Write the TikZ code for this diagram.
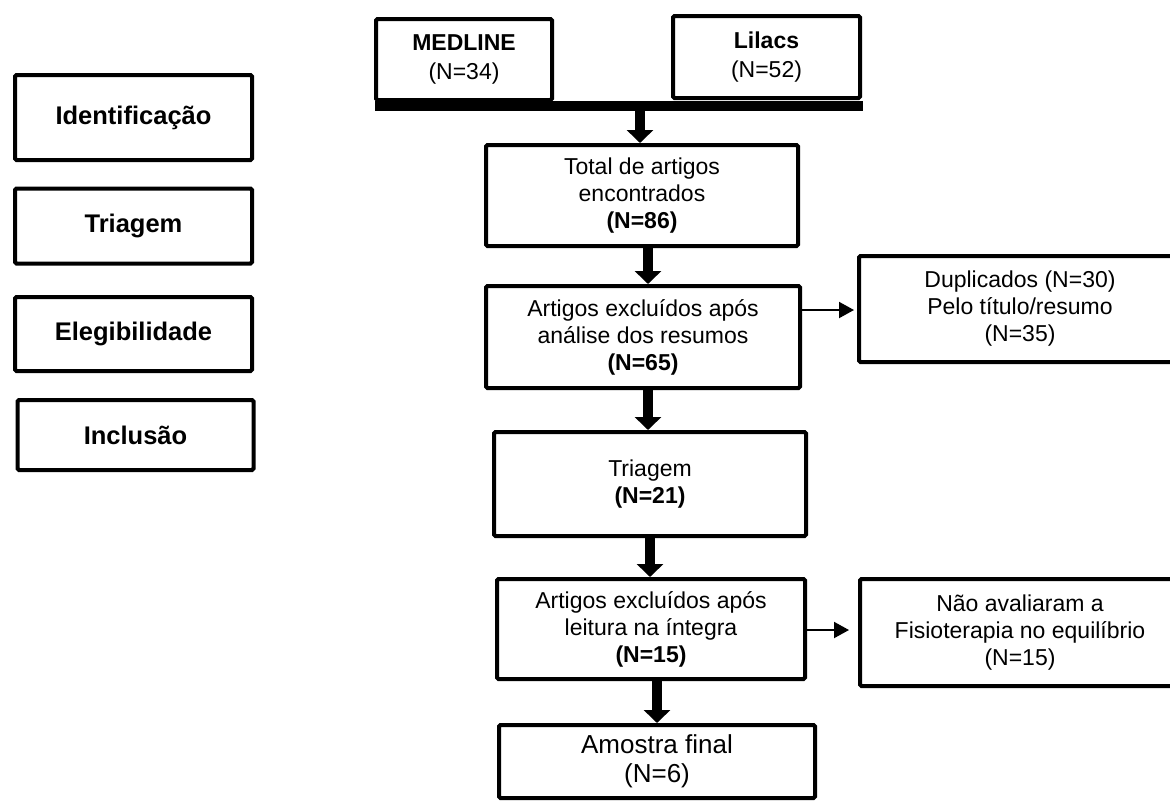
\documentclass[tikz,border=0pt]{standalone}
\usepackage{fontspec}
\setmainfont{Liberation Sans}
\usetikzlibrary{arrows.meta}
\tikzset{
  box/.style={draw, line width=4pt, rounded corners=1.5pt, inner sep=0pt, align=center,
    font=\fontsize{23}{27}\selectfont},
  sidebox/.style={box, font=\bfseries\fontsize{25.5}{30}\selectfont},
  srcbox/.style={box, font=\fontsize{23}{29}\selectfont},
  bigarr/.style={line width=10pt, -{Triangle[width=26pt,length=13pt]}},
  thinarr/.style={line width=2pt, -{Triangle[width=16pt,length=15pt]}},
}
\begin{document}
\begin{tikzpicture}[x=1pt,y=-1pt]
\useasboundingbox (0,0) rectangle (1170,804);
\clip (0,0) rectangle (1170,804);
% left stage labels
\node[sidebox, minimum width=237, minimum height=85] (idf) at (133.5,117.5) {Identificação};
\node[sidebox, minimum width=237, minimum height=75] (tri) at (133.5,226) {Triagem};
\node[sidebox, minimum width=237, minimum height=74] (eleg) at (133.5,334) {Elegibilidade};
\node[sidebox, minimum width=236, minimum height=70] (inc) at (135.5,435) {Inclusão};
% sources
\node[srcbox, minimum width=176, minimum height=81] (med) at (464,59.5) {\textbf{MEDLINE}\\(N=34)};
\node[srcbox, minimum width=187, minimum height=82] (lil) at (766.5,57) {\textbf{Lilacs}\\(N=52)};
\node[fill, inner sep=0pt, minimum width=488, minimum height=10] (bar) at (619,105.5) {};
% main column
\node[box, minimum width=312, minimum height=101] (total) at (642,195.5) {Total de artigos\\encontrados\\\textbf{(N=86)}};
\node[box, minimum width=314, minimum height=102] (art1) at (643,337) {Artigos excluídos após\\análise dos resumos\\\textbf{(N=65)}};
\node[box, minimum width=312, minimum height=104] (triag) at (650,484) {Triagem\\\textbf{(N=21)}};
\node[box, minimum width=308, minimum height=100] (art2) at (651,629) {Artigos excluídos após\\leitura na íntegra\\\textbf{(N=15)}};
\node[box, minimum width=316, minimum height=73, font=\fontsize{26}{29}\selectfont] (amo) at (657,761.5) {Amostra final\\(N=6)};
% side boxes
\node[box, minimum width=322, minimum height=106] (dup) at (1020,309) {Duplicados (N=30)\\Pelo título/resumo\\(N=35)};
\node[box, minimum width=320, minimum height=107] (nao) at (1020,632.5) {Não avaliaram a\\Fisioterapia no equilíbrio\\(N=15)};
% connectors
\draw[bigarr] ([xshift=21pt]bar.south) -- ([xshift=21pt]bar.south |- total.north);
\draw[bigarr] ([xshift=6pt]total.south) -- ([xshift=6pt]total.south |- art1.north);
\draw[bigarr] ([xshift=5pt]art1.south) -- ([xshift=5pt]art1.south |- triag.north);
\draw[bigarr] (triag.south) -- (triag.south |- art2.north);
\draw[bigarr] ([xshift=6pt]art2.south) -- ([xshift=6pt]art2.south |- amo.north);
\draw[thinarr, shorten >=3pt] ([yshift=27pt]art1.east) -- ([yshift=27pt]art1.east -| dup.west);
\draw[thinarr, shorten >=9pt] ([yshift=-1pt]art2.east) -- ([yshift=-1pt]art2.east -| nao.west);
\end{tikzpicture}
\end{document}
